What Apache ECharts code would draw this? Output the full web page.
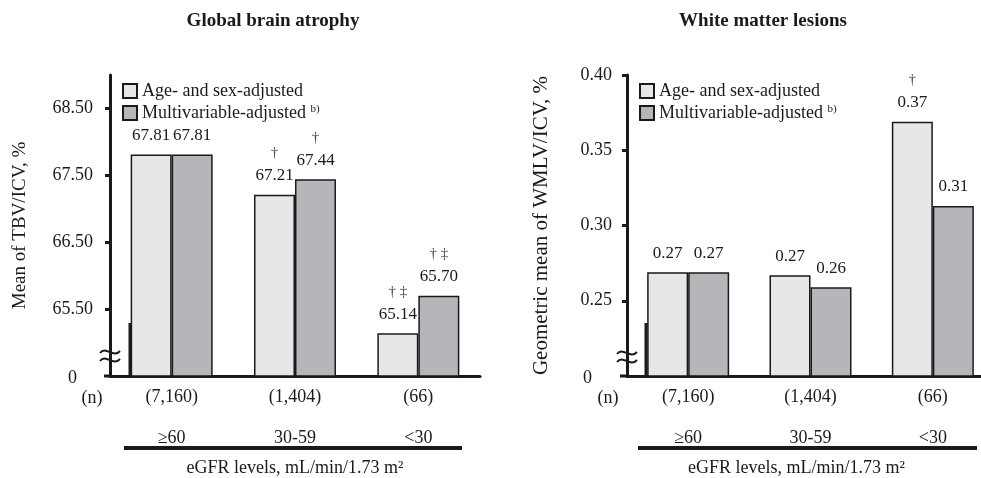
<!DOCTYPE html>
<html>
<head>
<meta charset="utf-8">
<script src="https://cdn.jsdelivr.net/npm/echarts@6/dist/echarts.min.js"></script>
<style>
  html, body { margin: 0; padding: 0; background: #fff; }
  #chart { width: 981px; height: 478px; }
</style>
</head>
<body>
<div id="chart"></div>
<script>
// categories (eGFR levels) and group sizes
const categories = ['≥60', '30-59', '<30'];
const nCounts = ['(7,160)', '(1,404)', '(66)'];
const seriesNames = ['Age- and sex-adjusted', 'Multivariable-adjusted'];

// Global brain atrophy: mean TBV/ICV, %
const tbvAgeSex = [67.81, 67.21, 65.14];
const tbvMulti = [67.81, 67.44, 65.70];
const tbvAgeSexMarks = ['', '†', '† ‡'];
const tbvMultiMarks = ['', '†', '† ‡'];
const tbvTicks = [64.5, 65.5, 66.5, 67.5, 68.5]; // 64.5 is the broken-axis "0"

// White matter lesions: geometric mean WMLV/ICV, %
const wmlAgeSex = [0.269, 0.267, 0.369];
const wmlMulti = [0.269, 0.259, 0.313];
const wmlAgeSexMarks = ['', '', '†'];
const wmlMultiMarks = ['', '', ''];
const wmlTicks = [0.20, 0.25, 0.30, 0.35, 0.40]; // 0.20 is the broken-axis "0"

const FONT = 'Liberation Serif';
const INK = '#1a1a1a';
const LIGHT = '#e6e7e9';
const DARK = '#b5b6b9';

let chart = echarts.init(document.getElementById('chart'));

function valueLabel(marks) {
  return {
    show: true,
    position: 'top',
    distance: 10,
    color: INK,
    fontFamily: FONT,
    formatter: function (p) {
      let txt = '{v|' + p.value.toFixed(2) + '}';
      let m = marks[p.dataIndex];
      return m ? '{d|' + m + '}\n' + txt : txt;
    },
    rich: {
      v: { fontSize: 17, lineHeight: 18, fontFamily: FONT, color: INK },
      d: { fontSize: 15, lineHeight: 27, fontFamily: FONT, color: '#444' }
    }
  };
}

function barSeries(name, idx, data, color, marks) {
  return {
    name: name,
    type: 'bar',
    xAxisIndex: idx,
    yAxisIndex: idx,
    barWidth: 41,
    barGap: '0%',
    itemStyle: { color: color, borderColor: INK, borderWidth: 1.5 },
    label: valueLabel(marks),
    data: data
  };
}

function yAxisOf(idx, min, max, ticks, name, nameSize, nameGap, zeroPad, margin) {
  return {
    type: 'value',
    gridIndex: idx,
    min: min,
    max: max,
    name: name,
    nameLocation: 'middle',
    nameGap: nameGap,
    nameMoveOverlap: false,
    nameTextStyle: { fontFamily: FONT, fontSize: nameSize, color: INK },
    axisLine: { show: true, lineStyle: { color: INK, width: 3 } },
    axisTick: { show: true, length: 5, customValues: ticks.slice(1), lineStyle: { color: INK, width: 3 } },
    splitLine: { show: false },
    axisLabel: {
      customValues: ticks,
      margin: margin,
      fontFamily: FONT,
      fontSize: 18,
      color: INK,
      formatter: function (v) {
        return Math.abs(v - ticks[0]) < 1e-9 ? '{z|0}' : v.toFixed(2);
      },
      rich: { z: { fontFamily: FONT, fontSize: 18, color: INK, padding: [4, zeroPad, 0, 0] } }
    }
  };
}

function xAxisOf(idx, namePad) {
  return {
    type: 'category',
    gridIndex: idx,
    data: categories,
    name: 'eGFR levels, mL/min/1.73 m²',
    nameLocation: 'middle',
    nameGap: 83,
    nameMoveOverlap: false,
    nameTextStyle: { fontFamily: FONT, fontSize: 18, color: INK, padding: [0, namePad, 0, 0] },
    axisLine: { show: true, lineStyle: { color: INK, width: 3 } },
    axisTick: { show: false },
    axisLabel: {
      margin: 1,
      interval: 0,
      fontFamily: FONT,
      fontSize: 18,
      lineHeight: 41,
      color: INK,
      formatter: function (v, i) { return nCounts[i] + '\n' + v; }
    }
  };
}

function legendOf(left, names) {
  return {
    orient: 'vertical',
    left: left,
    top: 77,
    itemWidth: 14,
    itemHeight: 14,
    itemGap: 4,
    icon: 'rect',
    data: names,
    formatter: function (n) {
      n = n.replace('\u200b', '');
      return n === seriesNames[1] ? n + ' {sup|b)}' : n;
    },
    textStyle: {
      fontFamily: FONT, fontSize: 18, lineHeight: 18, color: INK,
      rich: { sup: { fontFamily: FONT, fontSize: 11, color: INK, verticalAlign: 'top', padding: [0, 0, 7, 0] } }
    }
  };
}

function breakMark(x, y) {
  let wave = function (dy) {
    return {
      type: 'bezierCurve',
      shape: { x1: x - 10, y1: y + dy + 1, cpx1: x - 4, cpy1: y + dy - 7, cpx2: x + 3, cpy2: y + dy + 7, x2: x + 10, y2: y + dy - 1 },
      style: { stroke: INK, lineWidth: 2, fill: null },
      z: 100
    };
  };
  return [wave(-4), wave(4)];
}

function text(str, x, y, font) {
  return { type: 'text', x: x, y: y, style: { text: str, font: font, fill: INK, textAlign: 'center', textVerticalAlign: 'middle' } };
}

function line(x1, y1, x2, y2, w) {
  return { type: 'line', shape: { x1: x1, y1: y1, x2: x2, y2: y2 }, style: { stroke: INK, lineWidth: w }, z: 100 };
}

let option = {
  animation: false,
  backgroundColor: '#fff',
  grid: [
    { left: 110, top: 75, width: 370, height: 301, outerBoundsMode: 'none', containLabel: false },
    { left: 627, top: 75, width: 367, height: 301, outerBoundsMode: 'none', containLabel: false }
  ],
  legend: [
    legendOf(117, [seriesNames[0], seriesNames[1]]),
    legendOf(634, [seriesNames[0] + '\u200b', seriesNames[1] + '\u200b'])
  ],
  xAxis: [xAxisOf(0, 0), xAxisOf(1, 28)],
  yAxis: [
    yAxisOf(0, 64.5, 69, tbvTicks, 'Mean of TBV/ICV, %', 19, 80, 16, 17),
    yAxisOf(1, 0.2, 0.4, wmlTicks, 'Geometric mean of WMLV/ICV, %', 21, 75, 20, 15)
  ],
  series: [
    barSeries(seriesNames[0], 0, tbvAgeSex, LIGHT, tbvAgeSexMarks),
    barSeries(seriesNames[1], 0, tbvMulti, DARK, tbvMultiMarks),
    barSeries(seriesNames[0] + '\u200b', 1, wmlAgeSex, LIGHT, wmlAgeSexMarks),
    barSeries(seriesNames[1] + '\u200b', 1, wmlMulti, DARK, wmlMultiMarks)
  ],
  graphic: [
    text('Global brain atrophy', 273, 21, 'bold 19px "Liberation Serif"'),
    text('White matter lesions', 763, 21, 'bold 19px "Liberation Serif"'),
    text('(n)', 92, 398, '18px "Liberation Serif"'),
    text('(n)', 608, 398, '18px "Liberation Serif"'),
    line(124, 448, 462, 448, 4),
    line(638, 448, 977, 448, 4),
    line(104, 376, 110, 376, 3),
    line(620, 376, 627, 376, 3),
    line(130, 323, 130, 376, 3),
    line(646, 323, 646, 376, 3)
  ].concat(breakMark(110, 356), breakMark(627, 357))
};

chart.setOption(option);
</script>
</body>
</html>
